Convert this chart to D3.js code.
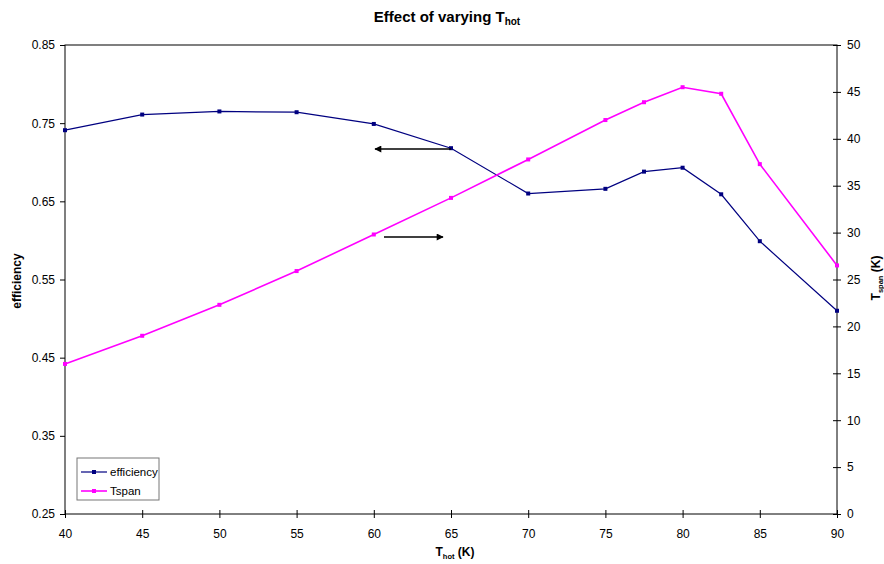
<!DOCTYPE html>
<html><head><meta charset="utf-8">
<script src="https://cdn.jsdelivr.net/npm/d3@7"></script>
<style>body{margin:0;background:#fff;} text{font-family:"Liberation Sans",Arial,sans-serif;}</style>
</head><body>
<svg id="c" width="884" height="564"></svg>
<script>
const thot = [40, 45, 50, 55, 60, 65, 70, 75, 77.5, 80, 82.5, 85, 90];
const efficiency = [0.741, 0.761, 0.765, 0.764, 0.749, 0.718, 0.660, 0.666, 0.688, 0.693, 0.659, 0.599, 0.510];
const tspan = [16.0, 19.0, 22.3, 25.9, 29.8, 33.7, 37.8, 42.0, 43.9, 45.5, 44.8, 37.3, 26.5];
const xTicks = [40, 45, 50, 55, 60, 65, 70, 75, 80, 85, 90];
const effTicks = [0.25, 0.35, 0.45, 0.55, 0.65, 0.75, 0.85];
const tspanTicks = [0, 5, 10, 15, 20, 25, 30, 35, 40, 45, 50];

const L = 65, R = 837, T = 45, B = 514;
const svg = d3.select("#c");
const x = d3.scaleLinear().domain([40, 90]).range([L, R]);
const yL = d3.scaleLinear().domain([0.25, 0.85]).range([B, T]);
const yR = d3.scaleLinear().domain([0, 50]).range([B, T]);

// frame
svg.append("rect").attr("x", L).attr("y", T).attr("width", R - L).attr("height", B - T)
  .attr("fill", "none").attr("stroke", "#000").attr("stroke-width", 1);

// axes
const ax = svg.append("g").attr("transform", `translate(0,${B})`)
  .call(d3.axisBottom(x).tickValues(xTicks).tickSize(4).tickPadding(11).tickFormat(d3.format("d")));
ax.selectAll(".tick line").attr("y1", -4);
const al = svg.append("g").attr("transform", `translate(${L},0)`)
  .call(d3.axisLeft(yL).tickValues(effTicks).tickSize(5).tickPadding(5).tickFormat(d3.format(".2f")));
const ar = svg.append("g").attr("transform", `translate(${R},0)`)
  .call(d3.axisRight(yR).tickValues(tspanTicks).tickSize(4).tickPadding(6).tickFormat(d3.format("d")));
ar.selectAll(".tick line").attr("x1", -4);
[ax, al, ar].forEach(g => {
  g.select(".domain").remove();
  g.selectAll("text").attr("font-size", 12).attr("fill", "#000").style("font-family", "Liberation Sans, Arial, sans-serif");
  g.selectAll(".tick line").attr("stroke", "#000");
});

// lines
const effData = thot.map((t, i) => [t, efficiency[i]]);
const tsData = thot.map((t, i) => [t, tspan[i]]);
svg.append("path").datum(effData)
  .attr("d", d3.line().x(d => x(d[0])).y(d => yL(d[1])))
  .attr("fill", "none").attr("stroke", "#000080").attr("stroke-width", 1.2);
svg.append("path").datum(tsData)
  .attr("d", d3.line().x(d => x(d[0])).y(d => yR(d[1])))
  .attr("fill", "none").attr("stroke", "#FF00FF").attr("stroke-width", 1.6);
svg.selectAll(".me").data(effData).join("rect")
  .attr("x", d => x(d[0]) - 2).attr("y", d => yL(d[1]) - 2).attr("width", 4).attr("height", 4).attr("fill", "#000080");
svg.selectAll(".mt").data(tsData).join("rect")
  .attr("x", d => x(d[0]) - 2).attr("y", d => yR(d[1]) - 2).attr("width", 4).attr("height", 4).attr("fill", "#FF00FF");

// arrows
const defs = svg.append("defs");
defs.append("marker").attr("id", "ah").attr("viewBox", "0 0 10 10").attr("refX", 9).attr("refY", 5)
  .attr("markerWidth", 10).attr("markerHeight", 7).attr("markerUnits", "userSpaceOnUse").attr("orient", "auto")
  .append("path").attr("d", "M0,0 L10,5 L0,10 z").attr("fill", "#000");
svg.append("line").attr("x1", 451).attr("y1", 149).attr("x2", 375).attr("y2", 149)
  .attr("stroke", "#000").attr("stroke-width", 1.3).attr("marker-end", "url(#ah)");
svg.append("line").attr("x1", 384).attr("y1", 237).attr("x2", 443).attr("y2", 237)
  .attr("stroke", "#000").attr("stroke-width", 1.3).attr("marker-end", "url(#ah)");

// title
const title = svg.append("text").attr("x", 447).attr("y", 22).attr("text-anchor", "middle")
  .attr("font-size", 15).attr("font-weight", "bold");
title.append("tspan").text("Effect of varying T");
title.append("tspan").attr("font-size", 10).attr("dy", 3).text("hot");

// x label
const xl = svg.append("text").attr("x", 455).attr("y", 556).attr("text-anchor", "middle")
  .attr("font-size", 12).attr("font-weight", "bold");
xl.append("tspan").text("T");
xl.append("tspan").attr("font-size", 7.5).attr("dy", 3).text("hot");
xl.append("tspan").attr("dy", -3).text(" (K)");

// left label
svg.append("text").attr("transform", "translate(21,281) rotate(-90)").attr("text-anchor", "middle")
  .attr("font-size", 12).attr("font-weight", "bold").text("efficiency");

// right label
const rl = svg.append("text").attr("transform", "translate(880,278) rotate(-90)").attr("text-anchor", "middle")
  .attr("font-size", 12).attr("font-weight", "bold");
rl.append("tspan").text("T");
rl.append("tspan").attr("font-size", 7.5).attr("dy", 3).text("span");
rl.append("tspan").attr("dy", -3).text(" (K)");

// legend
const lg = svg.append("g");
lg.append("rect").attr("x", 77).attr("y", 458).attr("width", 82).attr("height", 42)
  .attr("fill", "#fff").attr("stroke", "#777").attr("stroke-width", 1);
const items = [["efficiency", "#000080", 1.2], ["Tspan", "#FF00FF", 1.6]];
items.forEach((it, i) => {
  const yy = 472 + i * 19;
  lg.append("line").attr("x1", 81).attr("x2", 107).attr("y1", yy).attr("y2", yy).attr("stroke", it[1]).attr("stroke-width", it[2]);
  lg.append("rect").attr("x", 92).attr("y", yy - 2).attr("width", 4).attr("height", 4).attr("fill", it[1]);
  lg.append("text").attr("x", 110).attr("y", yy + 4).attr("font-size", 11.5).text(it[0]);
});
</script>
</body></html>
